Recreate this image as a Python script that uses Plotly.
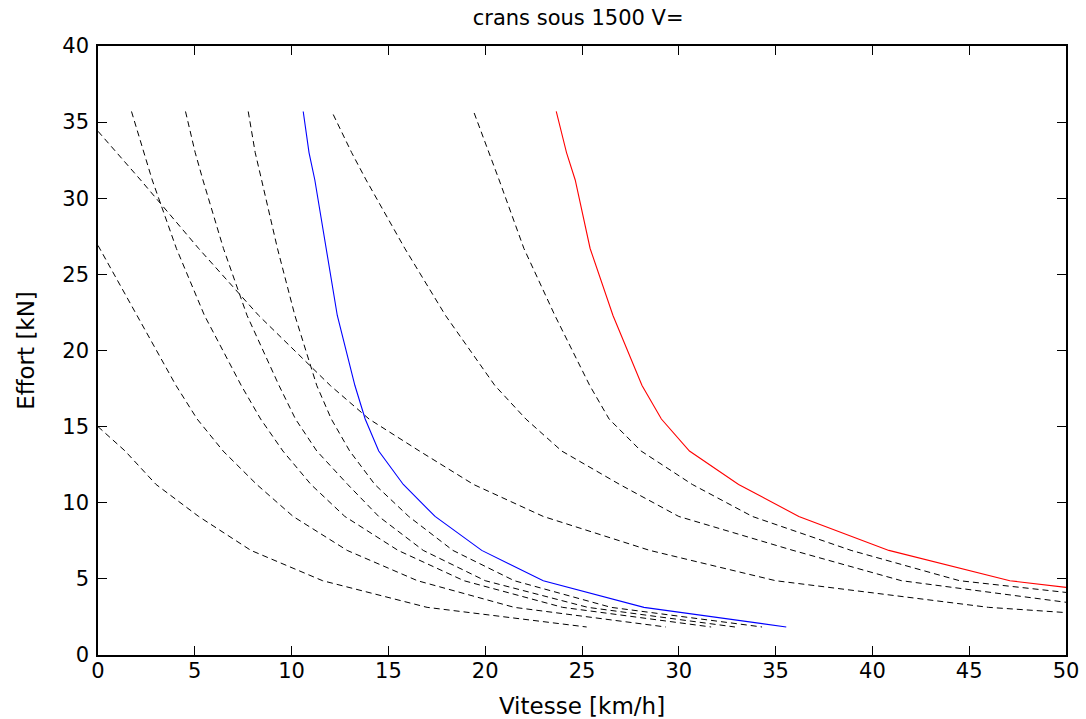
import plotly.graph_objects as go

# Effort levels (kN) shared by most curves
f_common = [35.7, 33.0, 31.2, 26.7, 22.3, 17.7, 15.5, 13.4, 11.2, 9.1, 6.87, 4.88, 3.13, 1.84]

# Series coupling notches (dashed) and full series (blue)
v_e3 = [0.0, 1.4, 3.0, 5.2, 7.9, 11.6, 17.0, 25.24]
f_e3 = [15.0, 13.4, 11.2, 9.1, 6.87, 4.88, 3.13, 1.84]

v_e2 = [0.0, 2.0, 4.03, 5.12, 6.46, 8.2, 10.08, 12.87, 16.5, 21.5, 29.33]
f_e2 = [26.9, 22.3, 17.7, 15.5, 13.4, 11.2, 9.1, 6.87, 4.88, 3.13, 1.84]

v_d1 = [1.73, 2.35, 2.8, 4.05, 5.5, 7.4, 8.4, 9.55, 11.0, 12.75, 15.5, 18.9, 24.0, 31.67]
v_d2 = [4.52, 5.02, 5.42, 6.48, 7.7, 9.35, 10.2, 11.3, 12.9, 14.5, 16.8, 20.0, 25.3, 32.9]
v_d3 = [7.76, 8.12, 8.45, 9.27, 10.17, 11.3, 12.05, 13.0, 14.3, 16.05, 18.33, 21.5, 26.5, 34.3]
v_blue = [10.6, 10.9, 11.2, 11.8, 12.36, 13.27, 13.8, 14.5, 15.77, 17.41, 19.82, 23.0, 28.2, 35.55]

# Parallel coupling notches (dashed) and full parallel (red)
v_e1 = [0.0, 0.95, 2.2, 5.2, 8.3, 12.0, 14.0, 16.6, 19.4, 23.0, 28.5, 35.0, 46.0, 61.0]
f_e1 = [34.4, 33.0, 31.2, 26.7, 22.3, 17.7, 15.5, 13.4, 11.2, 9.1, 6.87, 4.88, 3.13, 1.84]

v_d4 = [12.15, 13.1, 13.85, 15.85, 17.95, 20.5, 22.1, 23.95, 26.95, 30.0, 35.9, 41.5, 52.0]
f_d4 = [35.5, 33.0, 31.2, 26.7, 22.3, 17.7, 15.5, 13.4, 11.2, 9.1, 6.87, 4.88, 3.13]

v_d5 = [19.43, 20.2, 20.72, 22.0, 23.6, 25.4, 26.4, 28.05, 30.7, 33.8, 38.9, 44.5, 57.0]
f_d5 = [35.6, 33.0, 31.2, 26.7, 22.3, 17.7, 15.5, 13.4, 11.2, 9.1, 6.87, 4.88, 3.13]

v_red = [23.67, 24.2, 24.65, 25.42, 26.6, 28.1, 29.1, 30.55, 33.09, 36.2, 40.85, 47.1, 58.6]
f_red = [35.7, 33.0, 31.2, 26.7, 22.3, 17.7, 15.5, 13.4, 11.2, 9.1, 6.87, 4.88, 3.13]

x_ticks = [0, 5, 10, 15, 20, 25, 30, 35, 40, 45, 50]
y_ticks = [0, 5, 10, 15, 20, 25, 30, 35, 40]

dashed_curves = [
    (v_e3, f_e3), (v_e2, f_e2),
    (v_d1, f_common), (v_d2, f_common), (v_d3, f_common),
    (v_e1, f_e1), (v_d4, f_d4), (v_d5, f_d5),
]

fig = go.Figure()
for vx, fy in dashed_curves:
    fig.add_trace(go.Scatter(x=vx, y=fy[:len(vx)], mode="lines",
                             line=dict(color="black", width=1, dash="6px,4px"),
                             showlegend=False, hoverinfo="skip"))
fig.add_trace(go.Scatter(x=v_blue, y=f_common, mode="lines",
                         line=dict(color="#0000ff", width=1.1), showlegend=False))
fig.add_trace(go.Scatter(x=v_red, y=f_red, mode="lines",
                         line=dict(color="#ff0000", width=1.1), showlegend=False))

font_family = "DejaVu Sans, Liberation Sans, Arial, sans-serif"
axis_common = dict(showgrid=False, zeroline=False, showline=True, linecolor="black",
                   linewidth=1.5, mirror="ticks", ticks="inside", ticklen=9,
                   tickwidth=1, tickcolor="black", automargin=False,
                   tickfont=dict(family=font_family, size=21, color="black"))

fig.update_layout(
    width=1086, height=719,
    margin=dict(l=98, r=20, t=46, b=64),
    paper_bgcolor="white", plot_bgcolor="white",
    title=dict(text="crans sous 1500 V=", x=0.496, xref="paper", xanchor="center",
               y=0.976, yanchor="middle", yref="container",
               font=dict(family=font_family, size=21, color="black")),
    xaxis=dict(range=[0, 50], tickvals=x_ticks, ticktext=[str(t) for t in x_ticks],
               ticklabelstandoff=-4,
               title=dict(text="Vitesse [km/h]", standoff=16,
                          font=dict(family=font_family, size=23, color="black")),
               **axis_common),
    yaxis=dict(range=[0, 40], tickvals=y_ticks, ticktext=[str(t) for t in y_ticks],
               ticklabelstandoff=3,
               title=dict(text="Effort [kN]", standoff=21,
                          font=dict(family=font_family, size=23, color="black")),
               **axis_common),
)

fig.write_html("out.html",
               config={"displayModeBar": False},
               post_script="document.body.style.margin='0';"
                           "document.body.style.overflow='hidden';")
